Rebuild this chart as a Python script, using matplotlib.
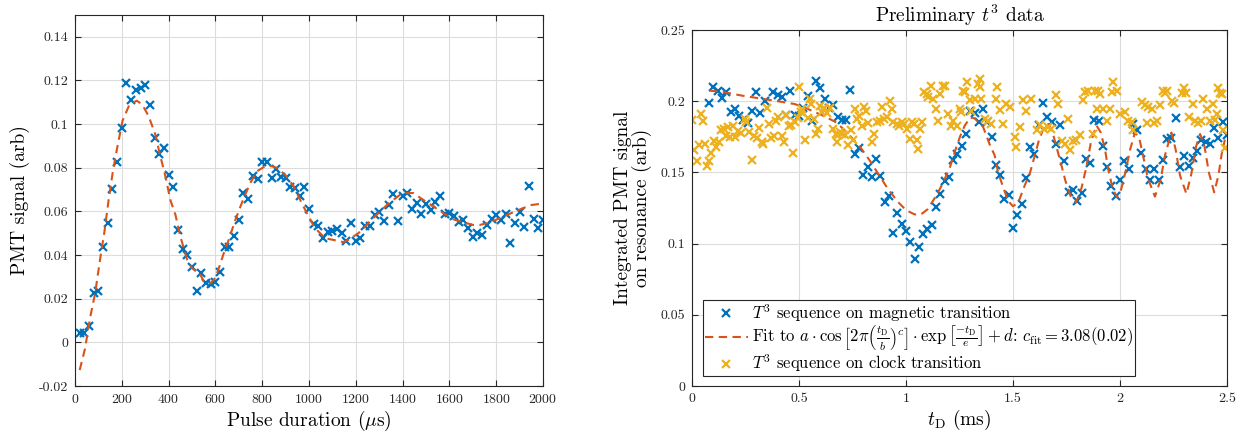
import matplotlib
matplotlib.use("Agg")
import matplotlib.pyplot as plt
import numpy

plt.rcParams["font.family"] = "cmr10"
plt.rcParams["mathtext.fontset"] = "cm"
plt.rcParams["axes.unicode_minus"] = False
plt.rcParams["axes.formatter.use_mathtext"] = True

BLUE = "#0072BD"
ORANGE = "#D95319"
YELLOW = "#EDB120"

# --- Rabi flop: PMT signal vs pulse duration (us) ---
pulse_us = numpy.arange(20, 2001, 20)
pmt_signal = [
    0.0043, 0.0043, 0.0077, 0.0224, 0.0236, 0.0439, 0.0546, 0.0701, 0.0824, 0.0980,
    0.1189, 0.1110, 0.1158, 0.1163, 0.1181, 0.1086, 0.0934, 0.0863, 0.0891, 0.0767,
    0.0710, 0.0514, 0.0426, 0.0402, 0.0347, 0.0235, 0.0319, 0.0271, 0.0268, 0.0276,
    0.0321, 0.0439, 0.0439, 0.0489, 0.0561, 0.0684, 0.0655, 0.0762, 0.0748, 0.0828,
    0.0824, 0.0755, 0.0796, 0.0756, 0.0752, 0.0712, 0.0707, 0.0669, 0.0710, 0.0612,
    0.0541, 0.0535, 0.0479, 0.0505, 0.0508, 0.0518, 0.0503, 0.0465, 0.0546, 0.0465,
    0.0477, 0.0532, 0.0532, 0.0583, 0.0597, 0.0555, 0.0627, 0.0678, 0.0558, 0.0669,
    0.0686, 0.0609, 0.0638, 0.0590, 0.0632, 0.0606, 0.0641, 0.0670, 0.0590, 0.0594,
    0.0577, 0.0552, 0.0560, 0.0526, 0.0483, 0.0500, 0.0492, 0.0537, 0.0566, 0.0583,
    0.0561, 0.0586, 0.0457, 0.0549, 0.0597, 0.0528, 0.0718, 0.0566, 0.0525, 0.0560,
]
rabi_fit_us = [20, 43, 64, 86, 107, 126, 143, 161, 179, 203, 233, 264, 286, 314, 343,
               361, 386, 407, 429, 450, 479, 500, 536, 550, 579, 600, 621, 638, 657, 685,
               718, 749, 778, 813, 842, 863, 898, 934, 969, 998, 1026, 1069, 1119, 1147,
               1168, 1211, 1254, 1296, 1339, 1389, 1417, 1446, 1488, 1531, 1574, 1616,
               1659, 1701, 1730, 1773, 1815, 1864, 1908, 1950, 1990]
rabi_fit = [-0.0127, -0.0028, 0.0110, 0.0225, 0.0379, 0.0509, 0.0647, 0.0777, 0.0884,
            0.1015, 0.1090, 0.1107, 0.1091, 0.1038, 0.0953, 0.0869, 0.0762, 0.0654,
            0.0585, 0.0486, 0.0379, 0.0340, 0.0310, 0.0279, 0.0271, 0.0295, 0.0360,
            0.0416, 0.0470, 0.0560, 0.0653, 0.0730, 0.0784, 0.0807, 0.0807, 0.0799,
            0.0768, 0.0715, 0.0638, 0.0577, 0.0523, 0.0477, 0.0466, 0.0459, 0.0469,
            0.0500, 0.0546, 0.0592, 0.0635, 0.0676, 0.0684, 0.0684, 0.0653, 0.0623,
            0.0592, 0.0564, 0.0550, 0.0538, 0.0538, 0.0549, 0.0569, 0.0592, 0.0612,
            0.0629, 0.0635]

# --- T^3 sequence: integrated PMT signal vs dark time t_D (ms) ---
mag_td = [0.08, 0.10, 0.12, 0.14, 0.16, 0.18, 0.20, 0.22, 0.24, 0.26, 0.28, 0.30, 0.32,
          0.34, 0.38, 0.40, 0.42, 0.44, 0.46, 0.48, 0.50, 0.52, 0.54, 0.56, 0.58, 0.60,
          0.62, 0.64, 0.66, 0.68, 0.70, 0.72, 0.74, 0.76, 0.78, 0.80, 0.82, 0.84, 0.86,
          0.88, 0.90, 0.92, 0.94, 0.96, 0.98, 1.00, 1.02, 1.04, 1.06, 1.08, 1.10, 1.12,
          1.14, 1.16, 1.18, 1.20, 1.22, 1.24, 1.26, 1.28, 1.30, 1.32, 1.34, 1.36, 1.38,
          1.40, 1.42, 1.44, 1.46, 1.48, 1.50, 1.52, 1.54, 1.56, 1.58, 1.60, 1.62, 1.64,
          1.66, 1.68, 1.70, 1.72, 1.74, 1.76, 1.78, 1.80, 1.82, 1.84, 1.86, 1.88, 1.90,
          1.92, 1.94, 1.96, 1.98, 2.00, 2.02, 2.04, 2.06, 2.08, 2.10, 2.12, 2.14, 2.16,
          2.18, 2.20, 2.22, 2.24, 2.26, 2.28, 2.30, 2.32, 2.34, 2.36, 2.38, 2.40, 2.42,
          2.44, 2.46, 2.48, 2.50]
mag_signal = [0.1986, 0.2103, 0.2073, 0.2023, 0.2063, 0.1923, 0.1946, 0.1899, 0.1871,
              0.1845, 0.1930, 0.2066, 0.1915, 0.2002, 0.2063, 0.2040, 0.2031, 0.1904,
              0.2070, 0.1906, 0.1894, 0.1953, 0.2033, 0.1864, 0.2139, 0.2096, 0.2012,
              0.1953, 0.1974, 0.1892, 0.1869, 0.1869, 0.2082, 0.1627, 0.1674, 0.1484,
              0.1538, 0.1467, 0.1596, 0.1477, 0.1291, 0.1331, 0.1077, 0.1218, 0.1136,
              0.1085, 0.1009, 0.0890, 0.0974, 0.1070, 0.1099, 0.1131, 0.1254, 0.1347,
              0.1437, 0.1470, 0.1589, 0.1627, 0.1685, 0.1772, 0.1930, 0.1920, 0.1852,
              0.1944, 0.1852, 0.1749, 0.1552, 0.1481, 0.1312, 0.1340, 0.1113, 0.1204,
              0.1277, 0.1460, 0.1678, 0.1629, 0.1833, 0.1986, 0.1892, 0.1852, 0.1697,
              0.1836, 0.1582, 0.1359, 0.1376, 0.1300, 0.1354, 0.1594, 0.1563, 0.1871,
              0.1861, 0.1688, 0.1540, 0.1401, 0.1331, 0.1448, 0.1577, 0.1523, 0.1843,
              0.1798, 0.1634, 0.1523, 0.1448, 0.1526, 0.1448, 0.1587, 0.1735, 0.1740,
              0.1880, 0.1535, 0.1613, 0.1542, 0.1601, 0.1653, 0.1725, 0.1716, 0.1700,
              0.1810, 0.1740, 0.1852, 0.1763]

fit_td = [0.08, 0.15, 0.23, 0.31, 0.40, 0.48, 0.54, 0.61, 0.676, 0.73, 0.785, 0.832,
          0.87, 0.917, 0.964, 1.00, 1.04, 1.07, 1.10, 1.143, 1.174, 1.206, 1.229, 1.252,
          1.275, 1.30, 1.32, 1.36, 1.39, 1.414, 1.43, 1.453, 1.477, 1.50, 1.525, 1.555,
          1.578, 1.60, 1.62, 1.645, 1.665, 1.685, 1.703, 1.726, 1.745, 1.77, 1.795,
          1.82, 1.84, 1.865, 1.89, 1.91, 1.93, 1.945, 1.965, 1.985, 2.005, 2.025,
          2.047, 2.07, 2.09, 2.11, 2.13, 2.163, 2.19, 2.21, 2.24, 2.26, 2.28, 2.31,
          2.332, 2.355, 2.374, 2.395, 2.415, 2.44, 2.46, 2.475, 2.49]
fit_signal = [0.2075, 0.2063, 0.2040, 0.2021, 0.2000, 0.1980, 0.1946, 0.1900, 0.1850,
              0.1770, 0.1680, 0.1580, 0.1490, 0.1380, 0.1290, 0.1235, 0.1205, 0.1205,
              0.1240, 0.1340, 0.1430, 0.1540, 0.1650, 0.1750, 0.1830, 0.1885, 0.1880,
              0.1820, 0.1700, 0.1620, 0.1500, 0.1400, 0.1300, 0.1262, 0.1290, 0.1410,
              0.1490, 0.1610, 0.1720, 0.1820, 0.1840, 0.1780, 0.1680, 0.1550, 0.1440,
              0.1330, 0.1290, 0.1390, 0.1520, 0.1720, 0.1830, 0.1780, 0.1660, 0.1520,
              0.1390, 0.1325, 0.1380, 0.1500, 0.1660, 0.1780, 0.1740, 0.1600, 0.1460,
              0.1330, 0.1450, 0.1620, 0.1780, 0.1660, 0.1480, 0.1350, 0.1480, 0.1680,
              0.1770, 0.1680, 0.1500, 0.1360, 0.1480, 0.1630, 0.1730]

clock_td = [0.000, 0.009, 0.022, 0.033, 0.043, 0.051, 0.062, 0.071, 0.078, 0.090, 0.102,
            0.113, 0.124, 0.136, 0.149, 0.158, 0.167, 0.178, 0.191, 0.203, 0.214, 0.229,
            0.248, 0.254, 0.268, 0.281, 0.291, 0.302, 0.312, 0.326, 0.333, 0.350, 0.358,
            0.369, 0.381, 0.394, 0.403, 0.419, 0.431, 0.440, 0.451, 0.462, 0.471, 0.482,
            0.493, 0.501, 0.508, 0.516, 0.529, 0.540, 0.549, 0.558, 0.571, 0.580, 0.589,
            0.598, 0.608, 0.617, 0.630, 0.645, 0.660, 0.671, 0.676, 0.684, 0.692, 0.703,
            0.715, 0.730, 0.743, 0.754, 0.762, 0.773, 0.782, 0.793, 0.805, 0.813, 0.824,
            0.840, 0.852, 0.863, 0.879, 0.886, 0.897, 0.910, 0.925, 0.933, 0.941, 0.956,
            0.969, 0.980, 0.992, 1.003, 1.019, 1.030, 1.039, 1.050, 1.058, 1.065, 1.073,
            1.084, 1.097, 1.104, 1.117, 1.128, 1.139, 1.151, 1.159, 1.171, 1.182, 1.198,
            1.210, 1.221, 1.237, 1.250, 1.259, 1.266, 1.274, 1.287, 1.297, 1.305, 1.321,
            1.336, 1.344, 1.347, 1.352, 1.368, 1.383, 1.399, 1.419, 1.427, 1.438, 1.453,
            1.469, 1.484, 1.508, 1.516, 1.531, 1.547, 1.562, 1.586, 1.610, 1.625, 1.643,
            1.664, 1.679, 1.703, 1.710, 1.727, 1.742, 1.757, 1.765, 1.780, 1.795, 1.812,
            1.827, 1.835, 1.851, 1.876, 1.882, 1.891, 1.899, 1.907, 1.922, 1.938, 1.953,
            1.961, 1.969, 1.984, 2.000, 2.023, 2.039, 2.055, 2.062, 2.101, 2.117, 2.125,
            2.132, 2.148, 2.160, 2.175, 2.187, 2.200, 2.210, 2.220, 2.241, 2.250, 2.290,
            2.300, 2.310, 2.320, 2.343, 2.350, 2.365, 2.380, 2.390, 2.405, 2.420, 2.436,
            2.445, 2.452, 2.460, 2.468, 2.475, 2.483, 2.490]
clock_signal = [0.1869, 0.1660, 0.1577, 0.1692, 0.1908, 0.1859, 0.1700, 0.1547, 0.1580,
                0.1636, 0.1723, 0.1676, 0.1716, 0.1800, 0.1805, 0.1754, 0.1817, 0.1746,
                0.1829, 0.1749, 0.1793, 0.1777, 0.1876, 0.1852, 0.1786, 0.1589, 0.1754,
                0.1744, 0.1810, 0.1711, 0.1700, 0.1951, 0.1840, 0.1739, 0.1754, 0.1864,
                0.1887, 0.1754, 0.1716, 0.1904, 0.1824, 0.1833, 0.1636, 0.1852, 0.1880,
                0.2099, 0.1923, 0.1946, 0.1728, 0.1880, 0.2012, 0.1981, 0.1876, 0.1770,
                0.1805, 0.1969, 0.1923, 0.1951, 0.1918, 0.1950, 0.1806, 0.1770, 0.1712,
                0.1760, 0.1782, 0.1770, 0.1760, 0.1689, 0.1800, 0.1724, 0.1946, 0.1876,
                0.1899, 0.1829, 0.1958, 0.1934, 0.1848, 0.1712, 0.1770, 0.1853, 0.1864,
                0.1958, 0.1876, 0.1888, 0.1998, 0.1946, 0.1853, 0.1841, 0.1829, 0.1853,
                0.1841, 0.1806, 0.1735, 0.1853, 0.1841, 0.1724, 0.1665, 0.1806, 0.1857,
                0.2063, 0.2051, 0.2028, 0.2110, 0.2016, 0.1946, 0.1864, 0.2051, 0.2110,
                0.2110, 0.1911, 0.1829, 0.1864, 0.1829, 0.1946, 0.1923, 0.2070, 0.2063,
                0.2133, 0.2005, 0.1934, 0.2016, 0.2122, 0.2100, 0.2157, 0.2016, 0.1876,
                0.1864, 0.1841, 0.2016, 0.2098, 0.1941, 0.1840, 0.1980, 0.1958, 0.1747,
                0.1677, 0.1817, 0.2005, 0.1934, 0.2016, 0.1800, 0.1830, 0.1806, 0.1817,
                0.1806, 0.2040, 0.1980, 0.1720, 0.1700, 0.1876, 0.1660, 0.1720, 0.1730,
                0.1760, 0.2005, 0.2063, 0.2075, 0.1770, 0.2070, 0.1946, 0.2075, 0.2051,
                0.1946, 0.1860, 0.1946, 0.2063, 0.2133, 0.2075, 0.1911, 0.1923, 0.1864,
                0.1853, 0.1800, 0.1993, 0.1970, 0.1850, 0.1958, 0.1946, 0.1850, 0.1860,
                0.1970, 0.2070, 0.2060, 0.2070, 0.2000, 0.1990, 0.2060, 0.2090, 0.2060,
                0.1890, 0.1980, 0.1860, 0.1850, 0.1860, 0.2016, 0.1946, 0.1860, 0.1980,
                0.1870, 0.1910, 0.2090, 0.2060, 0.2050, 0.1800, 0.1670]

left_yticks = [-0.02, 0, 0.02, 0.04, 0.06, 0.08, 0.1, 0.12, 0.14]
left_yticklabels = ["-0.02", "0", "0.02", "0.04", "0.06", "0.08", "0.1", "0.12", "0.14"]
left_xticks = list(range(0, 2001, 200))
right_yticks = [0, 0.05, 0.1, 0.15, 0.2, 0.25]
right_yticklabels = ["0", "0.05", "0.1", "0.15", "0.2", "0.25"]
right_xticks = [0, 0.5, 1, 1.5, 2, 2.5]
right_xticklabels = ["0", "0.5", "1", "1.5", "2", "2.5"]


def _matlab_axes(ax):
    # boxed axes, inward ticks on all four sides, faint grid
    ax.grid(True, color="#dcdcdc", linewidth=0.8)
    ax.set_axisbelow(True)
    for spine in ax.spines.values():
        spine.set_color("#262626")
        spine.set_linewidth(0.8)
    ax.tick_params(direction="in", top=True, right=True, length=4, width=0.8,
                   colors="#262626", labelsize=10, pad=5)


fig = plt.figure(figsize=(12.48, 4.34), dpi=100)

ax1 = fig.add_axes([0.0601, 0.1106, 0.375, 0.855])
ax1.plot(pulse_us, pmt_signal, "x", color=BLUE, markersize=5.5, markeredgewidth=1.6)
ax1.plot(rabi_fit_us, rabi_fit, "--", color=ORANGE, linewidth=1.5, dashes=(4, 2.6))
ax1.set_xlim(0, 2000)
ax1.set_ylim(-0.02, 0.15)
ax1.set_xticks(left_xticks)
ax1.set_yticks(left_yticks)
ax1.set_yticklabels(left_yticklabels)
ax1.set_xlabel(r"Pulse duration ($\mu$s)", fontsize=14, labelpad=2)
ax1.set_ylabel("PMT signal (arb)", fontsize=14, labelpad=6)
_matlab_axes(ax1)

ax2 = fig.add_axes([0.5545, 0.1106, 0.4287, 0.8203])
ax2.plot(mag_td, mag_signal, "x", color=BLUE, markersize=5.5, markeredgewidth=1.6,
         label=r"$T^3$ sequence on magnetic transition")
ax2.plot(fit_td, fit_signal, "--", color=ORANGE, linewidth=1.5, dashes=(4, 2.6),
         label=r"Fit to $a\cdot\cos\left[2\pi\left(\frac{t_\mathrm{D}}{b}\right)^c\right]"
               r"\cdot\exp\left[\frac{-t_\mathrm{D}}{e}\right]+d$: $c_\mathrm{fit}=3.08(0.02)$")
ax2.plot(clock_td, clock_signal, "x", color=YELLOW, markersize=5.5, markeredgewidth=1.6,
         label=r"$T^3$ sequence on clock transition")
ax2.set_xlim(0, 2.5)
ax2.set_ylim(0, 0.25)
ax2.set_xticks(right_xticks)
ax2.set_xticklabels(right_xticklabels)
ax2.set_yticks(right_yticks)
ax2.set_yticklabels(right_yticklabels)
ax2.set_xlabel(r"$t_\mathrm{D}$ (ms)", fontsize=14, labelpad=2)
ax2.set_ylabel("Integrated PMT signal\non resonance (arb)", fontsize=14, labelpad=6,
               linespacing=1.0)
ax2.set_title(r"Preliminary $t^3$ data", fontsize=14, pad=6)
_matlab_axes(ax2)

leg = ax2.legend(loc="lower left", bbox_to_anchor=(0.0206, 0.028), fontsize=12,
                 frameon=True, fancybox=False, framealpha=1, edgecolor="#262626",
                 handlelength=2.6, handletextpad=0.25, borderpad=0.1, labelspacing=0.0,
                 borderaxespad=0)
leg.get_frame().set_linewidth(0.8)

fig.savefig("out.png", dpi=100)
